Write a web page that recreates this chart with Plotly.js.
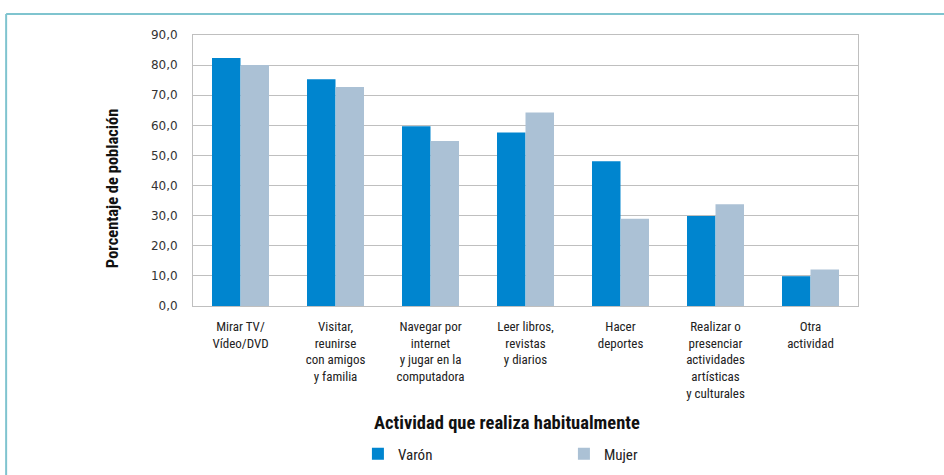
<!DOCTYPE html>
<html><head><meta charset="utf-8">
<script src="https://cdn.plot.ly/plotly-3.0.1.min.js"></script>
<style>html,body{margin:0;padding:0;background:#fff;}#chart{width:944px;height:475px;}</style>
</head><body><div id="chart"></div>
<script>
const categories = [
  "Mirar TV/<br>Vídeo/DVD",
  "Visitar,<br>reunirse<br>con amigos<br>y familia",
  "Navegar por<br>internet<br>y jugar en la<br>computadora",
  "Leer libros,<br>revistas<br>y diarios",
  "Hacer<br>deportes",
  "Realizar o<br>presenciar<br>actividades<br>artísticas<br>y culturales",
  "Otra<br>actividad"
];
const varon = [82.4, 75.3, 59.7, 57.6, 48.1, 29.9, 9.9];
const mujer = [80.0, 72.7, 54.8, 64.3, 29.0, 33.8, 12.1];
const yTicks = [0, 10, 20, 30, 40, 50, 60, 70, 80, 90];
const xTitle = "Actividad que realiza habitualmente";
const yTitle = "Porcentaje de población";

const narrow = "Roboto Condensed, DejaVu Sans Condensed, sans-serif";

const data = [
  {type:'bar', name:'Varón', x:categories, y:varon, marker:{color:'#0085cf'}, hoverinfo:'y'},
  {type:'bar', name:'Mujer', x:categories, y:mujer, marker:{color:'#abc1d5'}, hoverinfo:'y'}
];

const layout = {
  width:944, height:475,
  margin:{l:193, r:86, t:35, b:169, autoexpand:false},
  paper_bgcolor:'#fff', plot_bgcolor:'#fff',
  separators:',.',
  barmode:'group', bargap:0.4, bargroupgap:0,
  showlegend:true,
  legend:{orientation:'h', xref:'paper', x:0.248, xanchor:'left', yref:'container', y:0.079, yanchor:'top',
    font:{family:narrow, size:15, color:'#222'}, entrywidth:161, itemwidth:30, bgcolor:'rgba(0,0,0,0)'},
  xaxis:{
    type:'category', automargin:false,
    tickfont:{family:narrow, size:13, color:'#222'},
    ticklabelstandoff:8,
    ticks:'', showline:true, linecolor:'#bfbfbf', linewidth:1, mirror:true
  },
  yaxis:{
    automargin:false,
    range:[0,90], tickvals:yTicks, tickformat:'.1f',
    tickfont:{family:'DejaVu Sans, Verdana, sans-serif', size:12, color:'#333'},
    ticklabelstandoff:12,
    showgrid:true, gridcolor:'#bfbfbf', gridwidth:1, zeroline:false,
    showline:true, linecolor:'#bfbfbf', linewidth:1, mirror:true, ticks:''
  },
  annotations:[
    {xref:'paper', yref:'paper', x:0.472, y:-0.432, xanchor:'center', yanchor:'middle', showarrow:false,
     text:'<b>'+xTitle+'</b>', font:{family:narrow, size:18.5, color:'#111'}},
    {xref:'paper', yref:'paper', x:-0.120, y:0.432, xanchor:'center', yanchor:'middle', showarrow:false, textangle:-90,
     text:'<b>'+yTitle+'</b>', font:{family:narrow, size:16.5, color:'#111'}}
  ],
  shapes:[
    {type:'line', xref:'paper', yref:'paper', x0:-0.281, x1:1.2, y0:1.0775, y1:1.0775, line:{color:'#7fc4cf', width:2}},
    {type:'line', xref:'paper', yref:'paper', x0:-0.281, x1:-0.281, y0:1.0775, y1:-0.7, line:{color:'#7fc4cf', width:2}}
  ]
};
Plotly.newPlot('chart', data, layout, {displayModeBar:false});
</script></body></html>
